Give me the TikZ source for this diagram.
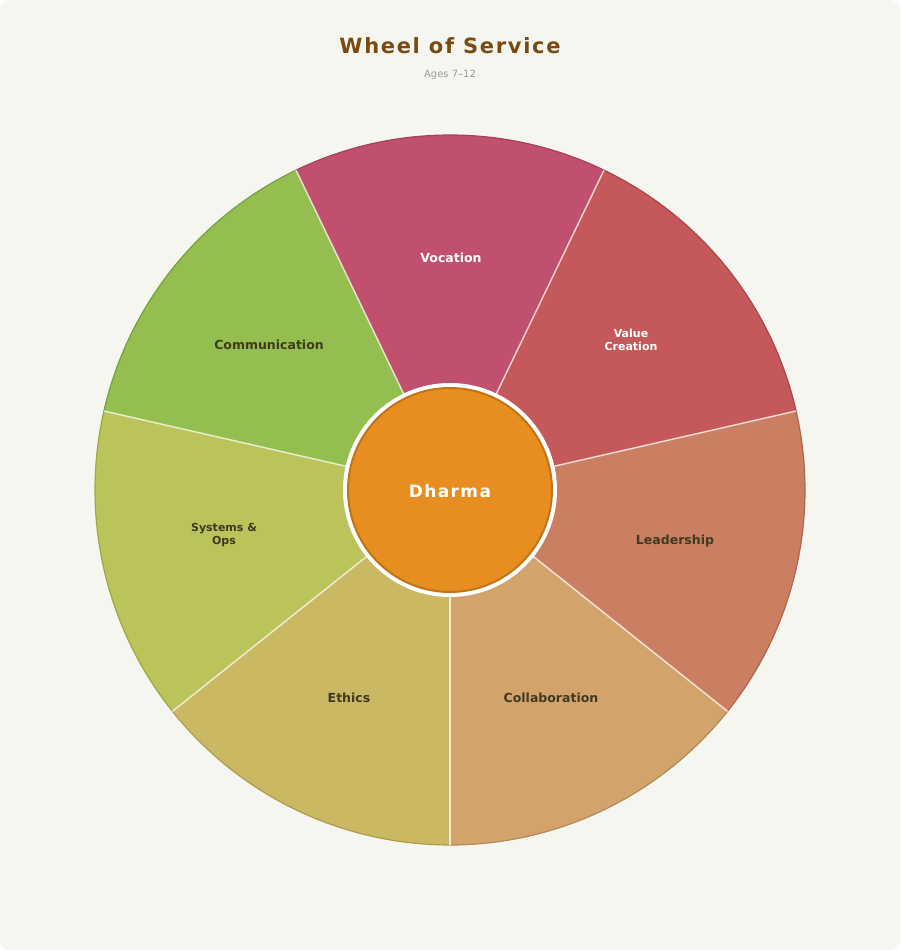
\documentclass[tikz,border=0pt]{standalone}
\usepackage{fontspec}
\setmainfont{DejaVu Sans}
\newfontfamily\spaced[LetterSpace=8]{DejaVu Sans}
\definecolor{bg}{HTML}{F6F6F1}
\definecolor{ttl}{HTML}{7A4A12}
\definecolor{sub}{HTML}{9A9A9A}
\definecolor{cVoc}{HTML}{C0506E}\definecolor{bVoc}{HTML}{A8405C}
\definecolor{cVal}{HTML}{C4585A}\definecolor{bVal}{HTML}{A8464A}
\definecolor{cLea}{HTML}{CB7F62}\definecolor{bLea}{HTML}{B0664C}
\definecolor{cCol}{HTML}{D2A46C}\definecolor{bCol}{HTML}{B48A56}
\definecolor{cEth}{HTML}{CBB862}\definecolor{bEth}{HTML}{AE9C4E}
\definecolor{cSys}{HTML}{BAC45A}\definecolor{bSys}{HTML}{9CA846}
\definecolor{cCom}{HTML}{94BE50}\definecolor{bCom}{HTML}{7AA03E}
\definecolor{dark}{HTML}{3F3A20}
\definecolor{hub}{HTML}{E88E20}\definecolor{hubb}{HTML}{C07418}
\tikzset{
 lab/.style={font=\bfseries\fontsize{12.5}{14}\selectfont, align=center},
 seg/.style={line width=1.2pt},
 sep/.style={draw=white, draw opacity=0.7, line width=1.5pt}
}
\newcommand{\wheelseg}[4]{%
 \fill[#3] (450,460) -- ++(#1:355) arc (#1:#2:355) -- cycle;
 \draw[seg,#4] (450,460) ++(#1:355) arc (#1:#2:355);}
\begin{document}
\begin{tikzpicture}[x=1pt,y=1pt]
\fill[bg, rounded corners=10pt] (0,0) rectangle (900,950);
\useasboundingbox (0,0) rectangle (900,950);
\node[text=ttl, font=\spaced\bfseries\fontsize{21}{24}\selectfont] (title) at (450,904) {Wheel of Service};
\node[text=sub, font=\fontsize{10}{12}\selectfont] (subtitle) at (450,875) {Ages 7–12};
\wheelseg{64.29}{115.71}{cVoc}{bVoc}
\wheelseg{12.86}{64.29}{cVal}{bVal}
\wheelseg{-38.57}{12.86}{cLea}{bLea}
\wheelseg{-90}{-38.57}{cCol}{bCol}
\wheelseg{-141.43}{-90}{cEth}{bEth}
\wheelseg{167.14}{218.57}{cSys}{bSys}
\wheelseg{115.71}{167.14}{cCom}{bCom}
\foreach \a in {-90,-38.57,12.86,64.29,115.71,167.14,218.57}
 \draw[sep] (450,460) -- ++(\a:355);
\fill[white] (450,460) circle (107);
\filldraw[fill=hub, draw=hubb, line width=2pt] (450,460) circle (102);
\node[text=white, font=\spaced\bfseries\fontsize{17}{20}\selectfont] (dharma) at (450,459) {Dharma};
\node[lab, text=white] (voc) at (451,692) {Vocation};
\node[lab, text=white, font=\bfseries\fontsize{11}{13}\selectfont] (val) at (631,610) {Value\\Creation};
\node[lab, text=dark] (lea) at (675,409) {Leadership};
\node[lab, text=dark] (col) at (551,252) {Collaboration};
\node[lab, text=dark] (eth) at (349,252) {Ethics};
\node[lab, text=dark, font=\bfseries\fontsize{11}{13}\selectfont] (sys) at (224,415) {Systems \&\\Ops};
\node[lab, text=dark] (com) at (269,605) {Communication};
\end{tikzpicture}
\end{document}
